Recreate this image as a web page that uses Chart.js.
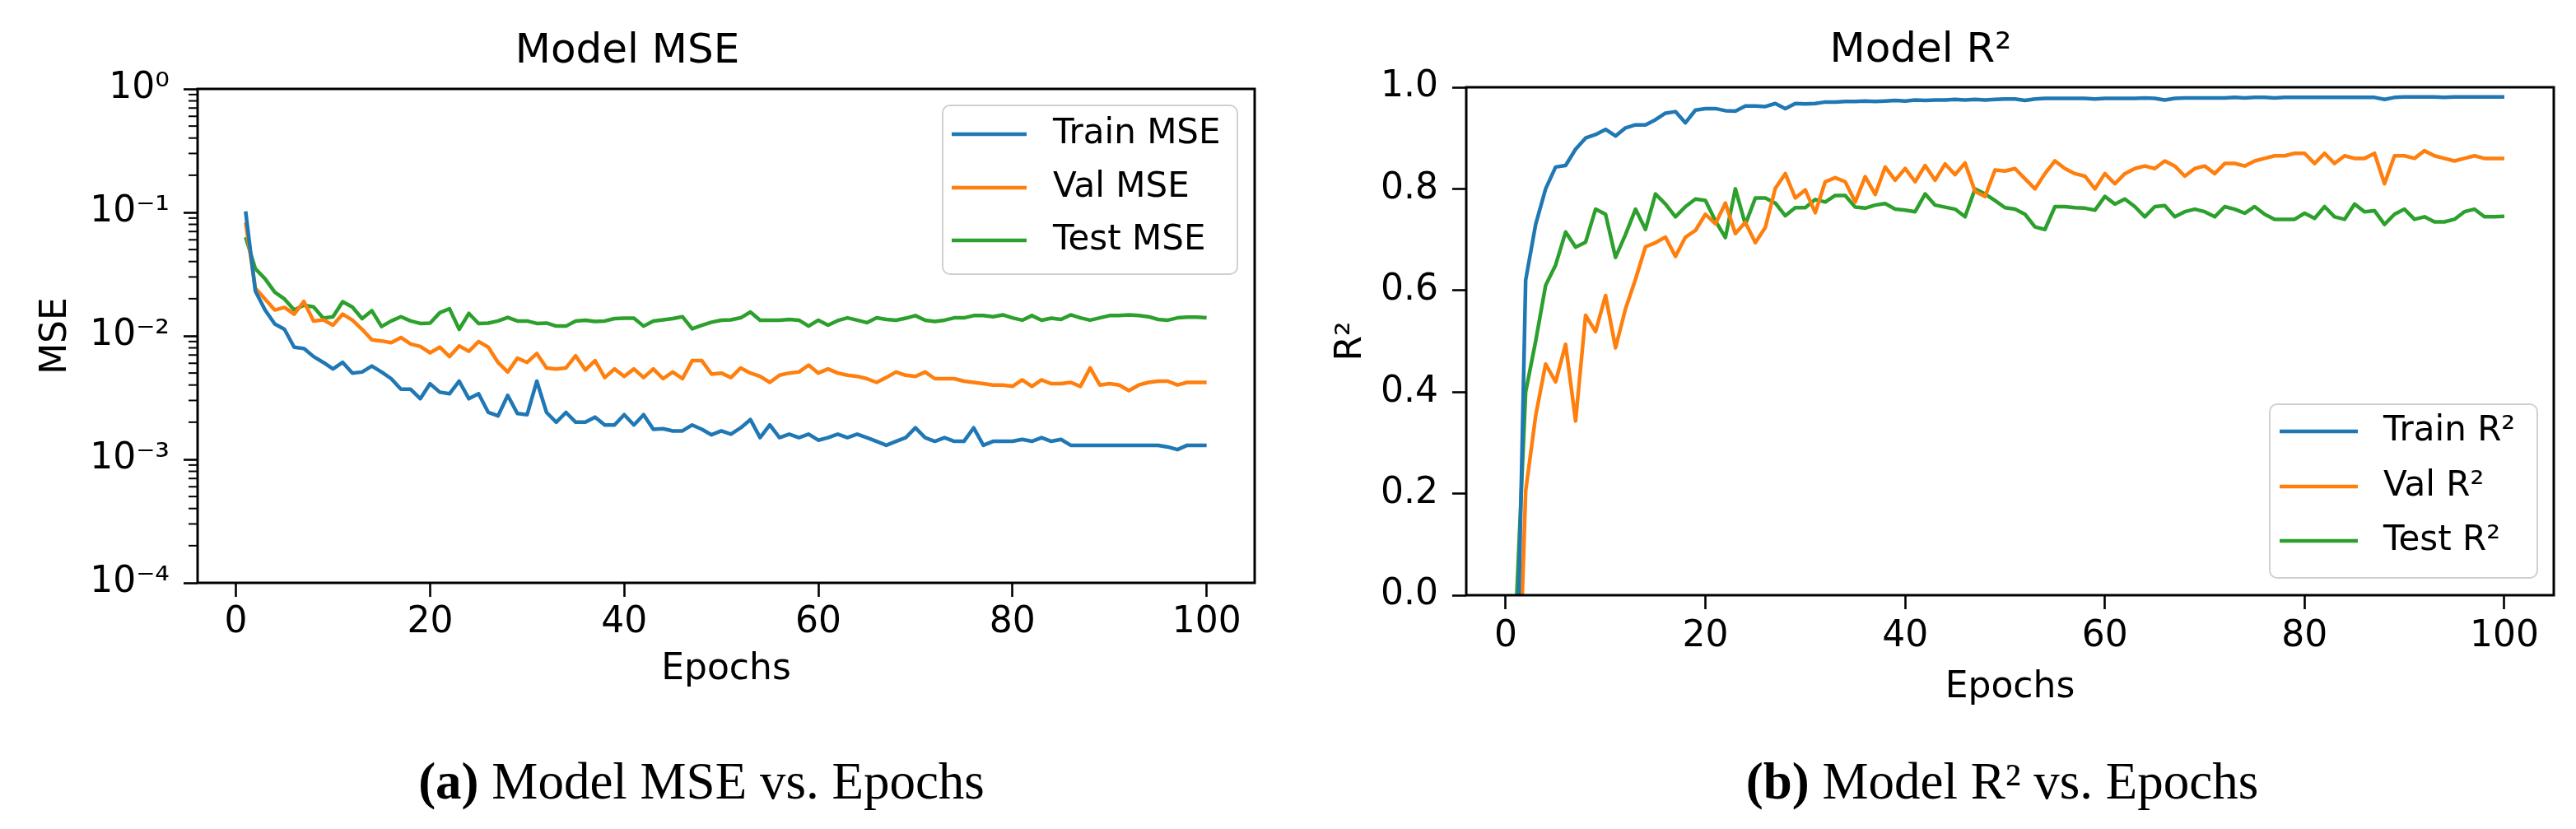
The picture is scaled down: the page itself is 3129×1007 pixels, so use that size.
<!DOCTYPE html>
<html>
<head>
<meta charset="utf-8">
<title>Model MSE / R² vs. Epochs</title>
<script src="https://cdn.jsdelivr.net/npm/chart.js@4.4.1/dist/chart.umd.min.js"></script>
<style>
  html, body { margin: 0; padding: 0; background: #fff; }
  body { width: 3129px; height: 1007px; position: relative; overflow: hidden; }
  #mseBox { position: absolute; left: 0; top: 0; width: 1564px; height: 880px; }
  #r2Box { position: absolute; left: 1564px; top: 0; width: 1565px; height: 900px; }
  .caption {
    position: absolute; top: 918px; transform: translateX(-50%);
    font-family: "Liberation Serif", "Times New Roman", serif;
    font-size: 63px; line-height: 1; white-space: nowrap; color: #000;
  }
</style>
</head>
<body>
<div id="mseBox"><canvas id="mseChart"></canvas></div>
<div id="r2Box"><canvas id="r2Chart"></canvas></div>
<div class="caption" style="left:852px"><b>(a)</b> Model MSE vs. Epochs</div>
<div class="caption" style="left:2432px"><b>(b)</b> Model R² vs. Epochs</div>

<script>
// -----------------------
// data
// -----------------------
const epochs = Array.from({ length: 100 }, (_, i) => i + 1);
const epochTicks = [0, 20, 40, 60, 80, 100];

const trainMse = [
  0.102, 0.0231, 0.0162, 0.0125, 0.0113, 0.0081, 0.0079, 0.0068, 0.0061, 0.0054,
  0.0061, 0.0050, 0.0051, 0.0057, 0.0051, 0.0045, 0.0037, 0.0037, 0.0031, 0.0041,
  0.0035, 0.0034, 0.0043, 0.0031, 0.0034, 0.0024, 0.00225, 0.0033, 0.00235, 0.0023,
  0.0043, 0.0024, 0.0020, 0.0024, 0.0020, 0.0020, 0.0022, 0.0019, 0.0019, 0.0023,
  0.0019, 0.0023, 0.00175, 0.00177, 0.0017, 0.0017, 0.0019, 0.00175, 0.00158, 0.0017,
  0.0016, 0.0018, 0.0021, 0.0015, 0.0019, 0.0015, 0.0016, 0.0015, 0.0016, 0.00143,
  0.0015, 0.0016, 0.0015, 0.0016, 0.0015, 0.0014, 0.0013, 0.0014, 0.0015, 0.0018,
  0.0015, 0.0014, 0.0015, 0.0014, 0.0014, 0.0018, 0.0013, 0.0014, 0.0014, 0.0014,
  0.00145, 0.0014, 0.0015, 0.0014, 0.00145, 0.0013, 0.0013, 0.0013, 0.0013, 0.0013,
  0.0013, 0.0013, 0.0013, 0.0013, 0.0013, 0.00126, 0.0012, 0.0013, 0.0013, 0.0013
];
const valMse = [
  0.083, 0.0244, 0.0199, 0.0162, 0.0170, 0.0150, 0.0190, 0.0132, 0.0135, 0.0122,
  0.0150, 0.0134, 0.0113, 0.0093, 0.0091, 0.0088, 0.0097, 0.0086, 0.0082, 0.0073,
  0.0081, 0.0068, 0.0083, 0.0075, 0.0090, 0.0081, 0.0061, 0.0051, 0.0066, 0.0061,
  0.0072, 0.0055, 0.0054, 0.0055, 0.0069, 0.0053, 0.0063, 0.0046, 0.0054, 0.0047,
  0.0054, 0.0046, 0.0054, 0.0045, 0.0051, 0.0045, 0.0063, 0.0063, 0.0049, 0.0050,
  0.0046, 0.0055, 0.0050, 0.0047, 0.0042, 0.0048, 0.0050, 0.0051, 0.0058, 0.0050,
  0.0054, 0.0050, 0.0048, 0.0047, 0.0045, 0.0042, 0.0046, 0.0051, 0.0048, 0.0047,
  0.0051, 0.0045, 0.0045, 0.0045, 0.0043, 0.0042, 0.0041, 0.0040, 0.0040, 0.0039,
  0.0044, 0.0039, 0.0044, 0.0041, 0.0041, 0.0042, 0.0039, 0.0055, 0.0040, 0.0041,
  0.0040, 0.0036, 0.0040, 0.0042, 0.0043, 0.0043, 0.0040, 0.0042, 0.0042, 0.0042
];
const testMse = [
  0.063, 0.035, 0.029, 0.0226, 0.0199, 0.0162, 0.0177, 0.0172, 0.0139, 0.0143,
  0.0189, 0.0171, 0.0138, 0.0160, 0.0119, 0.0132, 0.0143, 0.0132, 0.0126, 0.0127,
  0.0154, 0.0166, 0.0113, 0.0152, 0.0126, 0.0127, 0.0132, 0.0141, 0.0132, 0.0132,
  0.0126, 0.0127, 0.0120, 0.0120, 0.0132, 0.0134, 0.0131, 0.0132, 0.0138, 0.0139,
  0.0139, 0.0120, 0.0132, 0.0135, 0.0138, 0.0143, 0.0114, 0.0122, 0.0129, 0.0134,
  0.0135, 0.0140, 0.0156, 0.0134, 0.0134, 0.0134, 0.0136, 0.0134, 0.0120, 0.0134,
  0.0122, 0.0133, 0.0140, 0.0134, 0.0128, 0.0140, 0.0136, 0.0134, 0.0139, 0.0146,
  0.0134, 0.0131, 0.0134, 0.0140, 0.0140, 0.0146, 0.0146, 0.0143, 0.0148, 0.0140,
  0.0134, 0.0146, 0.0134, 0.0139, 0.0136, 0.0148, 0.0140, 0.0134, 0.0140, 0.0146,
  0.0146, 0.0148, 0.0146, 0.0143, 0.0136, 0.0134, 0.0140, 0.0142, 0.0142, 0.0140
];

const trainR2 = [
  -0.30, 0.62, 0.73, 0.80, 0.843, 0.846, 0.878, 0.900, 0.907, 0.917,
  0.904, 0.920, 0.926, 0.926, 0.936, 0.949, 0.952, 0.930, 0.955, 0.958,
  0.958, 0.954, 0.953, 0.963, 0.963, 0.962, 0.968, 0.958, 0.968, 0.967,
  0.968, 0.971, 0.971, 0.972, 0.972, 0.973, 0.972, 0.973, 0.974, 0.973,
  0.975, 0.974, 0.975, 0.975, 0.976, 0.975, 0.976, 0.975, 0.976, 0.977,
  0.977, 0.974, 0.977, 0.978, 0.978, 0.978, 0.978, 0.978, 0.977, 0.978,
  0.978, 0.978, 0.978, 0.979, 0.978, 0.975, 0.978, 0.979, 0.979, 0.979,
  0.979, 0.979, 0.980, 0.979, 0.980, 0.980, 0.979, 0.980, 0.980, 0.980,
  0.980, 0.980, 0.980, 0.980, 0.980, 0.980, 0.980, 0.976, 0.980, 0.981,
  0.981, 0.981, 0.981, 0.980, 0.981, 0.981, 0.981, 0.981, 0.981, 0.981
];
const valR2 = [
  -0.40, 0.205, 0.353, 0.455, 0.420, 0.494, 0.343, 0.551, 0.519, 0.590,
  0.487, 0.564, 0.622, 0.686, 0.694, 0.705, 0.667, 0.705, 0.718, 0.750,
  0.731, 0.772, 0.712, 0.734, 0.694, 0.724, 0.801, 0.830, 0.782, 0.798,
  0.753, 0.814, 0.822, 0.814, 0.774, 0.824, 0.789, 0.843, 0.817, 0.840,
  0.814, 0.846, 0.817, 0.849, 0.828, 0.851, 0.795, 0.785, 0.837, 0.835,
  0.840, 0.820, 0.800, 0.830, 0.855, 0.840, 0.830, 0.825, 0.800, 0.830,
  0.810, 0.830, 0.840, 0.845, 0.840, 0.855, 0.845, 0.825, 0.840, 0.845,
  0.830, 0.850, 0.850, 0.845, 0.855, 0.860, 0.865, 0.865, 0.870, 0.870,
  0.850, 0.870, 0.850, 0.865, 0.860, 0.860, 0.870, 0.810, 0.865, 0.865,
  0.860, 0.875, 0.865, 0.860, 0.855, 0.860, 0.865, 0.860, 0.860, 0.860
];
const testR2 = [
  -0.05, 0.40, 0.50, 0.61, 0.65, 0.715, 0.685, 0.695, 0.76, 0.75,
  0.665, 0.71, 0.76, 0.72, 0.79, 0.77, 0.745, 0.765, 0.78, 0.777,
  0.737, 0.704, 0.80, 0.73, 0.782, 0.782, 0.772, 0.747, 0.763, 0.763,
  0.779, 0.774, 0.787, 0.787, 0.764, 0.762, 0.768, 0.771, 0.76, 0.758,
  0.755, 0.79, 0.768, 0.764, 0.76, 0.745, 0.80, 0.79, 0.777, 0.763,
  0.76, 0.75, 0.725, 0.72, 0.765, 0.765, 0.763, 0.762, 0.758, 0.785,
  0.77, 0.78, 0.765, 0.745, 0.765, 0.767, 0.745, 0.755, 0.76, 0.755,
  0.745, 0.765, 0.76, 0.752, 0.765, 0.75, 0.74, 0.74, 0.74, 0.752,
  0.742, 0.765, 0.745, 0.74, 0.77, 0.755, 0.757, 0.73, 0.75, 0.76,
  0.74, 0.745, 0.735, 0.735, 0.74, 0.755, 0.76, 0.745, 0.745, 0.746
];

const mseTicks = [1e-4, 1e-3, 1e-2, 1e-1, 1];
const mseTickLabels = ["10⁻⁴", "10⁻³", "10⁻²", "10⁻¹", "10⁰"];
const minorSteps = [2, 3, 4, 5, 6, 7, 8, 9];
const r2Ticks = [0, 0.2, 0.4, 0.6, 0.8, 1.0];
const r2TickLabels = ["0.0", "0.2", "0.4", "0.6", "0.8", "1.0"];

const colors = ["#1f77b4", "#ff7f0e", "#2ca02c"];

// -----------------------
// shared helpers / plugins
// -----------------------
const FONT = "'DejaVu Sans', sans-serif";
Chart.defaults.font.family = FONT;
Chart.defaults.color = "#000";

// full box around the plot area (matplotlib spines)
const frame = {
    id: "frame",
    afterDatasetsDraw(chart) {
        const { ctx, chartArea: a } = chart;
        ctx.save();
        ctx.strokeStyle = "#000";
        ctx.lineWidth = 3;
        ctx.strokeRect(a.left, a.top, a.right - a.left, a.bottom - a.top);
        ctx.restore();
    }
};

// short minor tick marks on the log axis
const minorTicks = {
    id: "minorTicks",
    afterDraw(chart, args, o) {
        if (!o.values || !o.values.length) return;
        const { ctx, chartArea: a } = chart;
        const s = chart.scales.y;
        ctx.save();
        ctx.strokeStyle = "#000";
        ctx.lineWidth = 2;
        o.values.forEach(v => {
            const py = s.getPixelForValue(v);
            ctx.beginPath();
            ctx.moveTo(a.left - o.length, py);
            ctx.lineTo(a.left, py);
            ctx.stroke();
        });
        ctx.restore();
    }
};

// legend box drawn inside the plot area
const boxLegend = {
    id: "boxLegend",
    afterDraw(chart, args, o) {
        const { ctx, chartArea: a } = chart;
        const x = a.right - o.gapX - o.boxW;
        const y = o.corner === "top" ? a.top + o.gapY : a.bottom - o.gapY - o.boxH;
        ctx.save();
        ctx.beginPath();
        ctx.roundRect(x, y, o.boxW, o.boxH, 9);
        ctx.fillStyle = "rgba(255,255,255,0.8)";
        ctx.fill();
        ctx.lineWidth = 2;
        ctx.strokeStyle = "#d0d0d0";
        ctx.stroke();
        ctx.font = "42px " + FONT;
        ctx.textBaseline = "middle";
        chart.data.datasets.forEach((ds, i) => {
            const ry = y + o.rows[i];
            ctx.beginPath();
            ctx.moveTo(x + o.lineFrom, ry);
            ctx.lineTo(x + o.lineTo, ry);
            ctx.strokeStyle = ds.borderColor;
            ctx.lineWidth = 4.5;
            ctx.stroke();
            ctx.fillStyle = "#000";
            ctx.fillText(ds.label, x + o.textX, ry);
        });
        ctx.restore();
    }
};

function lineSet(label, data, color) {
    return {
        label: label,
        data: data,
        borderColor: color,
        backgroundColor: color,
        borderWidth: 4.5,
        borderJoinStyle: "round",
        pointRadius: 0,
        tension: 0,
        fill: false
    };
}

function tickGrid() {
    return {
        drawOnChartArea: false,
        drawTicks: true,
        tickLength: 17,
        tickWidth: 2.6,
        tickColor: "#000"
    };
}

// -----------------------
// Model MSE (log scale)
// -----------------------
(function () {
    const ctx = document.getElementById("mseChart");
    if (!ctx) return;

    const minorValues = mseTicks.slice(0, -1).flatMap(d => minorSteps.map(k => k * d));

    new Chart(ctx.getContext("2d"), {
        type: "line",
        data: {
            labels: epochs,
            datasets: [
                lineSet("Train MSE", trainMse, colors[0]),
                lineSet("Val MSE", valMse, colors[1]),
                lineSet("Test MSE", testMse, colors[2])
            ]
        },
        options: {
            responsive: true,
            maintainAspectRatio: false,
            animation: false,
            devicePixelRatio: 1,
            layout: { autoPadding: false, padding: { left: 0, right: 40, top: 0, bottom: 0 } },
            plugins: {
                legend: { display: false },
                tooltip: { enabled: false },
                title: {
                    display: true,
                    text: "Model MSE",
                    color: "#000",
                    font: { family: FONT, size: 50, weight: "normal" },
                    padding: { top: 33, bottom: 15 }
                },
                minorTicks: { values: minorValues, length: 11 },
                boxLegend: {
                    corner: "top", gapX: 21, gapY: 20, boxW: 358, boxH: 205,
                    rows: [35, 100, 164], lineFrom: 11, lineTo: 102, textX: 134
                }
            },
            scales: {
                x: {
                    type: "linear",
                    min: -3.95,
                    max: 104.95,
                    afterBuildTicks: s => { s.ticks = epochTicks.map(v => ({ value: v })); },
                    afterFit: s => { s.height = 172; s.paddingLeft = 0; s.paddingRight = 0; },
                    grid: tickGrid(),
                    border: { display: false },
                    ticks: { autoSkip: false, maxRotation: 0, padding: 5, font: { size: 44 }, color: "#000" },
                    title: { display: true, text: "Epochs", font: { size: 44 }, color: "#000", padding: { top: 0, bottom: 40 } }
                },
                y: {
                    type: "logarithmic",
                    min: 1e-4,
                    max: 1,
                    afterBuildTicks: s => { s.ticks = mseTicks.map(v => ({ value: v })); },
                    afterFit: s => { s.width = 240; s.paddingTop = 0; s.paddingBottom = 0; },
                    grid: tickGrid(),
                    border: { display: false },
                    ticks: {
                        autoSkip: false,
                        padding: 17,
                        font: { size: 44 },
                        color: "#000",
                        callback: (v, i) => mseTickLabels[i]
                    },
                    title: { display: true, text: "MSE", font: { size: 44 }, color: "#000", padding: { top: 42, bottom: 0 } }
                }
            }
        },
        plugins: [frame, minorTicks, boxLegend]
    });
})();

// -----------------------
// Model R²
// -----------------------
(function () {
    const ctx = document.getElementById("r2Chart");
    if (!ctx) return;

    new Chart(ctx.getContext("2d"), {
        type: "line",
        data: {
            labels: epochs,
            datasets: [
                lineSet("Train R²", trainR2, colors[0]),
                lineSet("Val R²", valR2, colors[1]),
                lineSet("Test R²", testR2, colors[2])
            ]
        },
        options: {
            responsive: true,
            maintainAspectRatio: false,
            animation: false,
            devicePixelRatio: 1,
            layout: { autoPadding: false, padding: { left: 0, right: 27, top: 0, bottom: 0 } },
            plugins: {
                legend: { display: false },
                tooltip: { enabled: false },
                title: {
                    display: true,
                    text: "Model R²",
                    color: "#000",
                    font: { family: FONT, size: 50, weight: "normal" },
                    padding: { top: 32, bottom: 14 }
                },
                minorTicks: { values: [], length: 0 },
                boxLegend: {
                    corner: "bottom", gapX: 20, gapY: 21, boxW: 325, boxH: 211,
                    rows: [33, 100, 166], lineFrom: 12, lineTo: 107, textX: 138
                }
            },
            scales: {
                x: {
                    type: "linear",
                    min: -3.95,
                    max: 104.95,
                    afterBuildTicks: s => { s.ticks = epochTicks.map(v => ({ value: v })); },
                    afterFit: s => { s.height = 177; s.paddingLeft = 0; s.paddingRight = 0; },
                    grid: tickGrid(),
                    border: { display: false },
                    ticks: { autoSkip: false, maxRotation: 0, padding: 7, font: { size: 44 }, color: "#000" },
                    title: { display: true, text: "Epochs", font: { size: 44 }, color: "#000", padding: { top: 0, bottom: 38 } }
                },
                y: {
                    type: "linear",
                    min: 0,
                    max: 1,
                    afterBuildTicks: s => { s.ticks = r2Ticks.map(v => ({ value: v })); },
                    afterFit: s => { s.width = 217; s.paddingTop = 0; s.paddingBottom = 0; },
                    grid: tickGrid(),
                    border: { display: false },
                    ticks: {
                        autoSkip: false,
                        padding: 17,
                        font: { size: 44 },
                        color: "#000",
                        callback: (v, i) => r2TickLabels[i]
                    },
                    title: { display: true, text: "R²", font: { size: 44 }, color: "#000", padding: { top: 51, bottom: 0 } }
                }
            }
        },
        plugins: [frame, minorTicks, boxLegend]
    });
})();
</script>
</body>
</html>
